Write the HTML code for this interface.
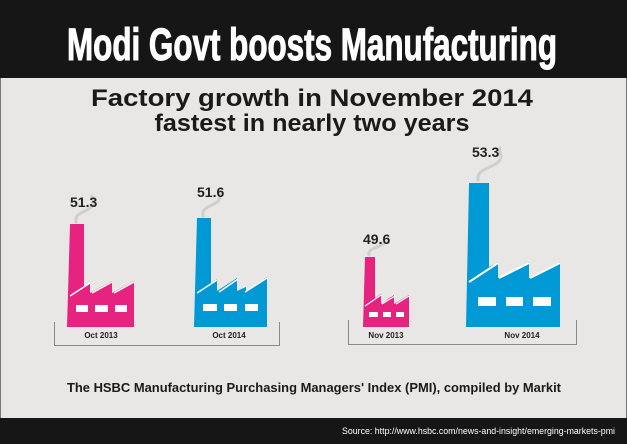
<!DOCTYPE html>
<html><head><meta charset="utf-8"><style>
html,body{margin:0;padding:0;background:#e8e7e5;}
svg{display:block;}
</style></head><body>
<svg width="627" height="444" viewBox="0 0 627 444" xmlns="http://www.w3.org/2000/svg" font-family="'Liberation Sans', Arial, sans-serif">
<rect x="0" y="0" width="627" height="444" fill="#e8e7e5"/>
<rect x="0.5" y="0.5" width="626" height="443" fill="none" stroke="#777" stroke-width="1"/>
<rect x="0" y="0" width="627" height="78" fill="#161616"/>
<text x="312" y="60" text-anchor="middle" fill="#fff" font-family="'Liberation Sans Narrow','Liberation Sans',sans-serif" font-weight="bold" font-size="50" textLength="490" lengthAdjust="spacingAndGlyphs" stroke="#fff" stroke-width="1.2" transform="translate(0,6) scale(1,0.9)">Modi Govt boosts Manufacturing</text>
<text x="312" y="106" text-anchor="middle" fill="#1a1a1a" font-size="24" font-weight="bold" textLength="442" lengthAdjust="spacingAndGlyphs">Factory growth in November 2014</text>
<text x="312" y="131" text-anchor="middle" fill="#1a1a1a" font-size="24" font-weight="bold" textLength="315" lengthAdjust="spacingAndGlyphs">fastest in nearly two years</text>

<g fill="none" stroke="#cfcfcf" stroke-width="3" stroke-linecap="round">
<path d="M76 222 C74 212 88 212 92 206 C95 201 90 199 92 196"/>
<path d="M203 216 C201 206 215 206 219 200 C222 195 217 193 219 190"/>
<path d="M369 255 C367 248 380 248 384 243"/>
<path d="M478 180 C476 168 495 168 500 160 C503 154 498 152 500 148"/>
</g>

<path fill="#e6237f" d="M70 224 H84 V287 L90 283 V293 L112 281 V293 L134 281 V327 H67 Z"/>
<g stroke="#fff" stroke-width="1.5"><path d="M70 296 L90 283 M92 293 L112 282 M114 293 L134 282"/></g>
<g fill="#fff"><rect x="76" y="305" width="12" height="7"/><rect x="95" y="305" width="13" height="7"/><rect x="115" y="305" width="12" height="7"/></g>
<text x="70" y="207" font-size="14" font-weight="bold" fill="#222">51.3</text>

<path fill="#0099d6" d="M197 218 H211 V283 L217 279 V291 L237 278 V291 L246 287 V291 L267 277 V327 H194 Z"/>
<g stroke="#fff" stroke-width="1.5"><path d="M197 293 L217 280 M219 292 L238 279 M245 292 L267 278"/></g>
<g fill="#fff"><rect x="203" y="304" width="14" height="7"/><rect x="224" y="304" width="13" height="7"/><rect x="245" y="304" width="13" height="7"/></g>
<text x="197" y="197" font-size="14" font-weight="bold" fill="#222">51.6</text>

<path fill="#e6237f" d="M365 257 H375 V298 L381 294 V304 L394 295 V304 L409 295 V327 H363 Z"/>
<g stroke="#fff" stroke-width="1.2"><path d="M365 306 L381 295 M382 304 L395 296 M396 304 L409 296"/></g>
<g fill="#fff"><rect x="369" y="312" width="9" height="5"/><rect x="383" y="312" width="8" height="5"/><rect x="396" y="312" width="8" height="5"/></g>
<text x="363" y="244" font-size="14" font-weight="bold" fill="#222">49.6</text>

<path fill="#0099d6" d="M469 183 H489 V267 L498 262 V278 L529 262 V278 L560 262 V327 H466 Z"/>
<g stroke="#fff" stroke-width="2"><path d="M469 282 L498 263 M499 278 L529 263 M530 278 L560 263"/></g>
<g fill="#fff"><rect x="478" y="297" width="18" height="9"/><rect x="506" y="297" width="17" height="9"/><rect x="533" y="297" width="18" height="9"/></g>
<text x="472" y="157" font-size="14" font-weight="bold" fill="#222">53.3</text>

<g fill="none" stroke="#8a8a8a" stroke-width="1">
<path d="M54.5 322 V345.5 H279.5 V322"/>
<path d="M348.5 320 V344.5 H576.5 V320"/>
</g>
<g font-size="8" font-weight="bold" fill="#222" text-anchor="middle">
<text x="101" y="338">Oct 2013</text>
<text x="229" y="338">Oct 2014</text>
<text x="386" y="338">Nov 2013</text>
<text x="522" y="338">Nov 2014</text>
</g>

<text x="314" y="392" text-anchor="middle" font-size="13" font-weight="bold" fill="#1a1a1a" textLength="494" lengthAdjust="spacingAndGlyphs">The HSBC Manufacturing Purchasing Managers' Index (PMI), compiled by Markit</text>

<rect x="0" y="418" width="627" height="26" fill="#161616"/>
<text x="615" y="434" text-anchor="end" font-size="9.5" fill="#fff" textLength="273" lengthAdjust="spacingAndGlyphs">Source: http://www.hsbc.com/news-and-insight/emerging-markets-pmi</text>
</svg>
</body></html>
